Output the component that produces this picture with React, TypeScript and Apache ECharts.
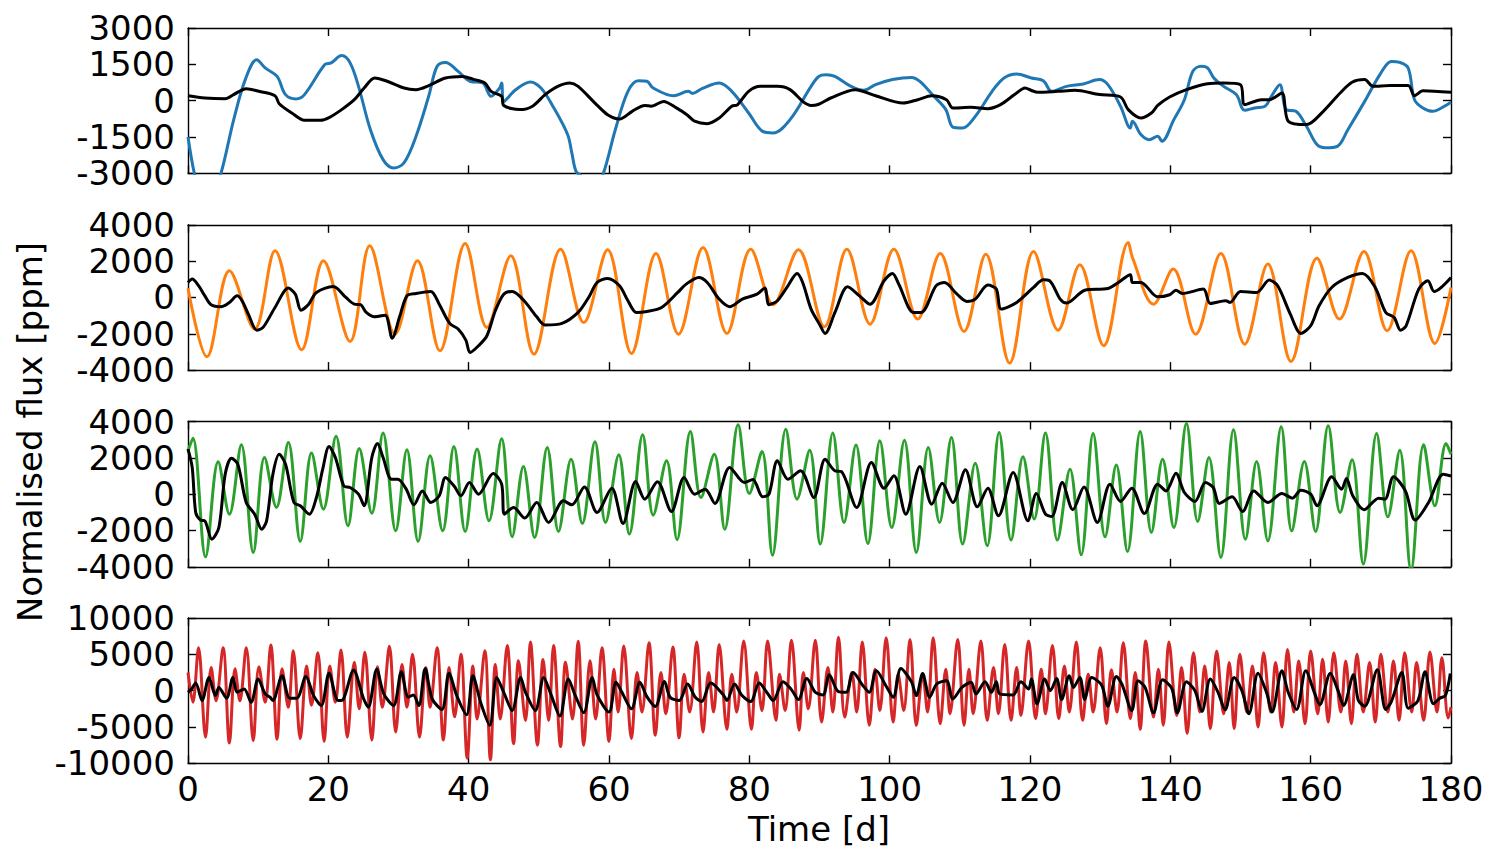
import React, { useEffect, useRef } from "react";
import * as echarts from "echarts";

type P = [number, number];

const DAYS_MIN = 0;
const DAYS_MAX = 180;
const DAYS_STEP = 20;
const Y_MIN = [-3000, -4000, -4000, -10000];
const Y_MAX = [3000, 4000, 4000, 10000];
const Y_STEP = [1500, 2000, 2000, 5000];
const COLOURS = ["#1f77b4", "#ff7f0e", "#2ca02c", "#d62728"];
const X_TITLE = "Time [d]";
const Y_TITLE = "Normalised flux [ppm]";

const blueFlux: P[] = [
  [0, -1500], [0.9, -3000], [2.5, -4800], [4.7, -3000], [6.5, -800], [8.2, 900], [9.8, 1690], [11, 1350], [12.7, 1000], [13.9, 250], [15.4, 70], [16.6, 250], [19.5, 1490], [20.4, 1560], [21.9, 1860], [23.1, 1560], [24.3, 590], [26, -1200], [27.8, -2435], [29.3, -2780], [30.8, -2560], [32.5, -1470], [34.3, 180], [35.5, 1420], [36.7, 1580], [38.5, 1210], [40.2, 800], [42, 730], [43.2, 180], [44.4, 520], [44.7, 730], [45, -30], [46.7, 450], [48.8, 770], [50.3, 520], [52, -230], [54.1, -1400], [54.7, -2160], [55.3, -2920], [56, -3100], [57.5, -4000], [59.2, -3000], [60.9, -1200], [62.7, 385], [64.2, 825], [65.4, 800], [66.3, 520], [69.2, 200], [71.3, 385], [71.9, 300], [73.4, 520], [75.7, 730], [77.5, 385], [79.9, -510], [81.9, -1270], [83.4, -1335], [85.8, -785], [88.8, 590], [89.9, 1000], [91, 1070], [92.2, 1000], [94.5, 590], [96.3, 425], [98, 660], [100.4, 870], [103.1, 960], [104.3, 800], [106.3, 180], [108, -370], [109, -1090], [110.4, -1130], [112.2, -650], [114.6, 385], [116.3, 935], [118.1, 1100], [120.2, 935], [121.9, 825], [123.1, 385], [125.2, 590], [127.6, 690], [129.9, 870], [131.1, 660], [132.9, -230], [134.3, -1130], [134.6, -850], [135.8, -1400], [137, -1610], [138.2, -1470], [138.8, -1680], [140.5, -785], [142, 40], [143.2, 1210], [144.4, 1420], [145.3, 1350], [146.2, 935], [147.6, 590], [149.4, 250], [150.6, -400], [152, -300], [153.5, -230], [154.4, 180], [155.6, 660], [156.5, -370], [157.9, -440], [159.4, -1060], [160.9, -1815], [162.1, -1950], [163.8, -1885], [165.3, -1200], [167.7, -30], [170, 1140], [171.5, 1620], [172.7, 1580], [173.9, 1350], [174.8, 40], [176, -300], [177.4, -440], [178.9, -260], [180, -70],
];

const blueModel: P[] = [
  [0, 205], [2.4, 110], [5.3, 80], [6.5, 250], [8.3, 495], [10.1, 385], [12.4, 205], [13, -125], [14.8, -510], [16.6, -810], [18.9, -810], [20.1, -700], [21.9, -370], [23.7, 40], [25.1, 520], [26.6, 935], [28.4, 800], [30.8, 520], [32.5, 455], [34.3, 620], [36.7, 935], [39.1, 1000], [40.8, 870], [42.3, 730], [43.2, 385], [44.7, 180], [45, -200], [47.3, -370], [49.1, -230], [50.9, 250], [52.7, 590], [54.4, 730], [55.6, 590], [58, -100], [59.8, -580], [61.5, -760], [63.3, -440], [65.1, -200], [66, -230], [67.8, -30], [69.6, -300], [71.1, -580], [72.2, -850], [74, -950], [75.7, -715], [77.5, -230], [78.3, -170], [79.9, 385], [81.6, 590], [84, 590], [85.8, 455], [87.6, -30], [88.8, -200], [89.8, -160], [91.6, 110], [95.1, 455], [98, 205], [101.9, -100], [104, 40], [106, 205], [108.1, 40], [109, -300], [111.6, -275], [114, -330], [115.8, -165], [117.8, 250], [119.3, 520], [120.2, 420], [121.1, 345], [124, 385], [126.4, 425], [129.9, 250], [132.9, 150], [134, -370], [135.8, -715], [137.3, -510], [138.2, -200], [139.9, 150], [142.3, 455], [145.3, 700], [147.6, 730], [150, 660], [150.6, -165], [153, 40], [154.1, 40], [155.9, 315], [156.8, -850], [159.4, -990], [161.8, -440], [164.2, 315], [165.9, 760], [167.7, 870], [168.9, 590], [171.3, 630], [173.9, 630], [174.8, 205], [176, 410], [180, 345],
];

const orangeFlux: P[] = [
  [0, 500], [2.7, -3270], [5.9, 1470], [9.5, -1740], [12.4, 2570], [16.2, -2880], [19.3, 2020], [23.1, -2420], [25.9, 2840], [29.5, -2020], [32.7, 2020], [35.9, -2940], [39.5, 2970], [42.6, -1650], [46, 2290], [49.3, -3120], [53.1, 2660], [56.4, -1380], [59.8, 2620], [63.2, -3080], [66.7, 2420], [69.9, -2020], [73.4, 2750], [76.8, -1980], [80.2, 2660], [83.4, -400], [87, 2620], [90.7, -1615], [93.9, 2660], [97.2, -1470], [100.6, 2660], [104, -1190], [107.2, 2420], [110.6, -1870], [113.7, 2385], [117.1, -3615], [120.5, 2530], [124, -1800], [127.1, 1800], [130.5, -2660], [134, 3030], [134.6, 2200], [137.6, -370], [140.4, 1560], [143.6, -2020], [147.2, 2420], [150.6, -2570], [153.9, 1835], [157.2, -3520], [160.9, 2165], [164.1, -1190], [167.6, 2530], [170.9, -1835], [174.3, 2570], [177.7, -2530], [180, 550],
];

const orangeModel: P[] = [
  [0, 825], [0.6, 1010], [1.5, 650], [2.4, 90], [3.3, -400], [4.7, -510], [5.9, -275], [7, 90], [7.7, -180], [8.6, -920], [9.8, -1800], [10.7, -1650], [12.4, -550], [14.3, 515], [15.3, 180], [16.1, -700], [17.2, -370], [18.3, 275], [20.7, 605], [22.5, 0], [23.7, -370], [24.6, -400], [25.4, -825], [26.6, -1065], [28.1, -975], [29.1, -2240], [30.2, -1010], [31.2, 90], [32.5, 220], [34.6, 330], [35.8, -370], [37.3, -1430], [38.5, -1740], [39.6, -2350], [40.2, -3030], [41.4, -2660], [42.6, -2110], [43.8, -730], [45, 180], [46.2, 330], [47.9, -180], [49.7, -1065], [50.9, -1520], [53.3, -1430], [55.6, -825], [57.1, 0], [58.3, 825], [59.8, 1045], [61.5, 640], [62.7, -180], [63.9, -825], [65.4, -770], [67.5, -550], [69.8, 275], [71, 735], [72.8, 1100], [74, 825], [75.7, -90], [77.2, -510], [79, -90], [81.1, 180], [82.2, 515], [82.8, -400], [84, -180], [85.5, 640], [86.8, 1320], [87.6, 825], [88.8, -640], [90, -1470], [90.8, -1980], [92.2, -825], [94, 590], [95.7, 90], [97.2, -370], [99.2, 920], [100.4, 1320], [101.3, 730], [103.4, -825], [104.5, -825], [106.6, 640], [107.8, 825], [109.6, 180], [111, -220], [112.2, -90], [114, 680], [115.2, 460], [115.9, -640], [118.1, -275], [120.5, 550], [121.9, 970], [122.8, 920], [124.3, -90], [125.2, -310], [127.8, 400], [131.1, 495], [132.6, 825], [134.3, 1250], [134.6, 825], [135.8, 825], [138.2, 35], [139.9, 150], [140.8, 400], [141.7, 220], [144.7, 460], [145.7, -330], [147.9, -180], [148.5, -275], [150, 330], [152.3, 275], [154.1, 955], [155.3, 640], [157.1, -920], [158.6, -1980], [160, -1560], [161.2, -460], [163, 550], [165.3, 1100], [167.4, 1320], [169.2, 550], [170.7, -825], [171.9, -1100], [172.8, -1800], [173.6, -1560], [175.4, 460], [176.7, 920], [177.6, 330], [180, 1100],
];

const greenFlux: P[] = [
  [0, 2390], [0.7, 3080], [2.5, -3450], [4.3, 1780], [5.9, -1100], [7.6, 2715], [9.3, -3210], [10.9, 2020], [12.6, -730], [14.3, 2840], [16, -2600], [17.6, 2260], [19.3, -825], [21.1, 3190], [22.8, -1740], [24.4, 2510], [26.2, -1045], [27.8, 3360], [29.6, -2020], [31.2, 2440], [32.8, -2600], [34.5, 2110], [36.3, -2020], [37.9, 2620], [39.5, -2055], [41.2, 2480], [42.9, -1470], [44.7, 3050], [46.2, -2350], [47.8, 1520], [49.4, -2385], [51.2, 2570], [52.8, -2055], [54.6, 1925], [56.2, -1615], [58, 2880], [59.5, -1560], [61.4, 2165], [62.9, -2200], [64.8, 3270], [66.3, -1155], [68.2, 1835], [69.7, -2510], [71.6, 3450], [73.1, -185], [75, 2200], [76.5, -1930], [78.4, 3815], [80, 35], [81.8, 2350], [83.3, -3360], [85.2, 3580], [86.8, -275], [88.6, 2420], [90.1, -2750], [91.9, 3360], [93.5, -1560], [95.2, 2700], [96.9, -2715], [98.6, 2935], [100.3, -1835], [102.1, 2970], [103.8, -3210], [105.5, 2570], [107.1, -1560], [108.8, 3120], [110.4, -2750], [112.2, 1700], [113.9, -2840], [115.6, 3395], [117.3, -2530], [119, 2055], [120.6, -1375], [122.2, 3360], [123.9, -2530], [125.7, 1375], [127.3, -3340], [129, 3340], [130.7, -2350], [132.3, 1600], [133.9, -3160], [135.7, 3450], [137.3, -2110], [138.9, 1925], [140.5, -1835], [142.3, 3890], [143.9, -1505], [145.5, 2020], [147.2, -3490], [149, 3540], [150.7, -2480], [152.3, 1800], [153.9, -2570], [155.8, 3710], [157.3, -2020], [159.1, 1800], [160.7, -2055], [162.5, 3760], [164.2, -1010], [165.9, 1890], [167.5, -3850], [169.4, 3340], [171, -1250], [172.7, 2420], [174.3, -4200], [176.1, 2715], [177.7, -640], [179.3, 2790], [180, 2200],
];

const greenModel: P[] = [
  [0, 2480], [0.6, 1470], [1.1, -1010], [1.8, -1430], [2.4, -1470], [3.4, -2480], [4.4, -1840], [5.3, 1100], [6.2, 1980], [7.1, 1650], [8.3, -460], [9.5, -1100], [10.5, -1930], [11.2, -1470], [12.1, 1100], [13, 2200], [13.9, 1650], [15.1, -460], [16, -640], [17.3, -1100], [18.3, -185], [19.2, 1375], [20.1, 2620], [21, 2020], [22.2, 460], [23.1, 370], [24.3, 0], [25.1, -640], [26.2, 2020], [27, 2790], [27.8, 2020], [29, 825], [29.9, 825], [31.1, 275], [32.2, -590], [33.4, 180], [34.6, -460], [35.8, -90], [36.7, 920], [37.9, 460], [38.9, -90], [40.1, 640], [41.4, 0], [43.5, 1140], [44.7, 550], [45.1, -1100], [46.4, -730], [48, -1320], [49.7, -460], [51.4, -1560], [53.5, -370], [54.7, -590], [56.5, 400], [58.3, -1010], [60.4, 330], [62, -1615], [63.8, 700], [65.1, -275], [66.9, 680], [68.9, -955], [70.7, 920], [72.2, 0], [73.7, 275], [75.1, -510], [77.2, 1470], [79.3, 640], [80.5, 810], [81.9, -150], [82.8, 0], [84, 1835], [85.5, 825], [87.3, 1285], [89.2, -185], [90.8, 1925], [92.2, 1285], [93.1, 1250], [95.3, -730], [97.4, 1745], [99.2, 330], [100.6, 1010], [102.3, -1100], [104.3, 1520], [106, -550], [107.5, 605], [109, -460], [110.8, 1340], [112.5, -700], [114, 330], [115.5, -1190], [117.6, 1190], [119.7, -1470], [120.9, 35], [122.2, -1100], [123.1, -1230], [124.6, 640], [126.1, -860], [127.7, 400], [129.6, -1560], [131.4, 550], [132.9, -400], [134.5, 330], [136.3, -1065], [138.2, 550], [139.4, 180], [140.8, 1155], [142, 90], [143.5, -400], [145, 640], [146.1, 370], [147, -510], [148.8, -150], [150.3, -955], [151.9, 180], [153.9, -460], [155.9, 35], [157.4, -220], [158.6, 220], [160, 0], [160.9, -640], [163, 955], [164.4, 275], [165.1, 860], [166, -90], [167.6, -860], [169.7, -220], [170.6, -275], [171.8, 955], [173.5, 180], [174.9, -1430], [176.8, -460], [178.9, 1100], [180, 1000],
];

const redFlux: P[] = [
  [0, 2500], [0.7, -1600], [1.5, 5900], [2.5, -6400], [3.3, 3200], [4, -1400], [5, 5900], [5.9, -7200], [6.7, 3000], [7.4, -1400], [8.3, 5900], [9.3, -6900], [10.1, 3300], [11, -1600], [11.8, 6300], [12.7, -6700], [13.4, 3000], [14.3, -2300], [15, 5500], [16, -6600], [16.9, 3400], [17.6, -2000], [18.5, 5200], [19.4, -7000], [20.2, 3400], [21, -1600], [21.8, 5600], [22.7, -6400], [23.7, 3900], [24.4, -2500], [25.2, 5300], [26.2, -6800], [27, 3300], [27.7, -2300], [28.7, 6100], [29.6, -5700], [30.5, 3600], [31.2, -2300], [32, 5000], [33, -6400], [33.9, 3200], [34.5, -2300], [35.5, 5900], [36.4, -6800], [37.2, 3200], [38, -3600], [38.9, 5000], [39.8, -9300], [40.6, 3400], [41.2, -3900], [42.3, 5500], [43.1, -9500], [43.8, 3600], [44.5, -3900], [45.5, 6200], [46.4, -7300], [47.1, 4100], [48.1, -4100], [48.8, 6700], [49.8, -7500], [50.6, 4300], [51.4, -4100], [52.1, 6200], [53.1, -7700], [53.8, 3900], [54.8, -3900], [55.6, 6800], [56.4, -7500], [57.3, 4100], [58.1, -3900], [59, 5900], [60, -7000],
  [60.7, 2950], [61.3, -2950], [62.1, 6140], [63.2, -6590], [64, 2500], [64.7, -2950], [65.7, 6590], [66.6, -6140], [67.4, 2500], [68.1, -3180], [69.1, 6000], [70, -6500], [70.7, 2270], [71.5, -2950], [72.5, 6680], [73.4, -5680], [74.2, 2500], [74.9, -2950], [75.7, 6360], [76.8, -5320], [77.5, 2270], [78.2, -2950], [79.2, 6820], [80.3, -5320], [81, 2500], [81.8, -2730], [82.6, 6820], [83.8, -4090], [84.3, 2270], [85.1, -2730], [86, 6950], [87.1, -5450], [87.7, 2500], [88.4, -2500], [89.4, 6950], [90.3, -4320], [91.2, 3180], [91.9, -2950], [92.7, 7360], [93.6, -3640], [94.6, 2500], [95.3, -2950], [96.1, 6680], [97.1, -4770], [97.9, 2950], [98.6, -2730], [99.5, 7270], [100.5, -4320], [101.2, 2270], [102, -2730], [102.9, 7045], [103.8, -4770], [104.7, 2270], [105.4, -2950], [106.2, 7270], [107.2, -4545], [108, 2950], [108.6, -3180], [109.7, 7045], [110.6, -4770], [111.3, 2950], [111.9, -3180], [113, 6820], [113.9, -4090], [114.8, 3180], [115.5, -3180], [116.4, 6360], [117.3, -4090], [118.1, 3180], [118.7, -3410], [119.8, 6820],
  [120.8, -3860], [121.6, 2950], [122.2, -3180], [123.2, 6230], [124.1, -3860], [124.9, 3410], [125.6, -2950], [126.6, 6680], [127.5, -4090], [128.3, 2270], [129, -2950], [130, 5900], [130.9, -4545], [131.6, 2860], [132.4, -2950], [133.3, 6590], [134.3, -3860], [135, 2500], [135.7, -5320], [136.5, 6820], [137.6, -3640], [138.3, 2950], [139, -4770], [139.8, 6680], [140.9, -3410], [141.6, 3180], [142.4, -5900], [143.3, 5230], [144.2, -2950], [144.9, 3410], [145.7, -5230], [146.6, 5450], [147.6, -3180], [148.4, 3860], [149.1, -5230], [149.9, 5000], [150.9, -2950], [151.7, 3410], [152.5, -5000], [153.3, 5230], [154.3, -2950], [155, 3860], [155.9, -5000], [156.7, 5680], [157.6, -2950], [158.3, 4090], [159.2, -4545], [160, 5450], [161, -3180], [161.7, 4320], [162.5, -4320], [163.3, 5230], [164.3, -2950], [165, 4090], [165.8, -4545], [166.6, 5000], [167.5, -2950], [168.4, 3860], [169.2, -4320], [170, 5000], [171, -2950], [171.8, 4090], [172.6, -4090], [173.4, 5230], [174.4, -2950], [175.1, 3860], [176.1, -4090], [177, 5320], [178, -2950], [178.7, 4545], [179.6, -3770], [180, -2270],
];

const redModel: P[] = [
  [0, -230], [0.5, 230], [1.1, 1045], [2, -1360], [3, 1820], [3.9, -680], [4.4, 450], [5.5, -1045], [6.4, 1820], [7, -230], [8, 230], [9, -1590], [10, 1590], [11, -450], [11.7, -910], [12.1, -1360], [13.4, 2045], [14.5, -1045], [15.5, -1045], [16.8, 1950], [17.9, -680], [19, -2045], [20.1, 2410], [21.4, -1360], [22.1, -1230], [23.6, 2820], [25, -1045], [25.7, -2270], [26.9, 2950], [27.9, -450], [29.3, -2045], [30.4, 2590], [31.4, -910], [32.1, -590], [32.9, -2045], [33.8, 3045], [34.8, -1140], [36.2, -2590], [37.2, 2410], [38.3, -680], [39.7, -3320], [40.6, 2045], [41.7, -1590], [43, -4770], [44, 1820], [45, -230], [46.2, -2730], [47.4, 1820], [48.1, -230], [49.5, -2730], [50.7, 1820], [51.7, -450], [53, -3500], [54.2, 1590], [55.2, -680], [56.4, -3045], [57.6, 1820], [58.3, -590], [60, -2950],
  [61, 1140], [61.8, -140], [63.2, -2500], [64.4, 1140], [65.4, -820], [66.6, -2180], [67.9, 1270], [68.7, -910], [70, -1360], [71.2, 910], [72.3, -910], [73.2, -1500], [74.5, 1045], [76.3, -590], [76.8, -1360], [77.9, 910], [78.9, -590], [80.2, -1500], [81.4, 1045], [82.5, -230], [83.4, -1360], [84.8, 1230], [86, 140], [87, -1230], [88.2, 1680], [89.4, -230], [90.5, -590], [91.4, 2180], [92.7, -140], [93.8, -230], [94.8, 2500], [96.2, 680], [97.1, -230], [98.1, 2730], [99.6, 450], [100.5, -910], [101.6, 3045], [103.1, 1230], [103.8, -680], [104.7, 2360], [105.7, -910], [106.7, 910], [108.1, 1360], [109, -1140], [110.3, 450], [111.6, 1140], [112.3, -450], [113.6, 1230], [114.5, -230], [115.2, 1230], [115.7, -450], [117.6, -590], [118.7, 1230], [119.8, 230],
  [120.2, 1590], [121, -1820], [122.1, 1590], [122.9, 0], [123.8, 1680], [124.5, -1230], [125.6, 2045], [126.2, 450], [127.1, 1820], [127.8, -1230], [128.8, 1820], [130.2, 770], [131.1, -2140], [132.3, 1950], [133.1, 910], [134.5, -2730], [135.4, 1360], [136.4, 450], [137.6, -3045], [138.9, 1500], [140.2, 320], [141, -3045], [142.3, 1230], [143.5, 0], [144.5, -2860], [145.7, 1590], [146.8, -230], [147.8, -2640], [149.1, 1820], [150.2, 0], [151.2, -3180], [152.5, 2410], [153.7, -230], [154.5, -2950], [155.9, 2730], [156.8, -230], [158, -2590], [159.3, 2730], [160.6, -450], [161.3, -1950], [162.8, 2410], [163.9, 0], [164.7, -2045], [166.1, 2180], [166.8, -1360], [167.7, -2140], [169.5, 2860], [170.7, -2590], [171.5, -1500], [173, 2500], [173.9, -2410], [175.3, -1360], [176.3, 2590], [177.5, -1820], [178.4, -1045], [179.2, -680], [179.9, 2360],
];

const FLUX = [blueFlux, orangeFlux, greenFlux, redFlux];
const MODEL = [blueModel, orangeModel, greenModel, redModel];

const FONT = '"DejaVu Sans", "Liberation Sans", sans-serif';
const FS = 34;

export default function App() {
  const ref = useRef<HTMLDivElement>(null);
  useEffect(() => {
    if (!ref.current) return;
    const chart = echarts.init(ref.current, null, { renderer: "svg" });
    const tops = [28, 224.8, 421.5, 618];
    const H = 145.3;
    const frame = { show: true, onZero: false, lineStyle: { color: "#000", width: 1.4 } };
    const tick = { show: true, inside: true, length: 8, lineStyle: { color: "#000", width: 1.4 } };
    const plain = (v: number) => String(v);
    const grid: any[] = [];
    const xAxis: any[] = [];
    const yAxis: any[] = [];
    const series: any[] = [];
    tops.forEach((top, i) => {
      grid.push({ left: 188, right: 49, top, height: H, containLabel: false });
      const xc = {
        type: "value", gridIndex: i, min: DAYS_MIN, max: DAYS_MAX, interval: DAYS_STEP,
        splitLine: { show: false }, axisLine: frame, axisTick: tick,
      };
      xAxis.push({
        ...xc, position: "bottom",
        axisLabel: { show: i === 3, color: "#000", fontFamily: FONT, fontSize: FS, margin: 9, formatter: plain },
      });
      xAxis.push({ ...xc, position: "top", axisLabel: { show: false } });
      const yc = {
        type: "value", gridIndex: i, min: Y_MIN[i], max: Y_MAX[i], interval: Y_STEP[i],
        splitLine: { show: false }, axisLine: frame, axisTick: tick,
      };
      yAxis.push({
        ...yc, position: "left",
        axisLabel: { color: "#000", fontFamily: FONT, fontSize: FS, margin: 13, formatter: plain },
      });
      yAxis.push({ ...yc, position: "right", axisLabel: { show: false } });
      series.push({
        type: "line", xAxisIndex: 2 * i, yAxisIndex: 2 * i, data: FLUX[i],
        showSymbol: false, symbol: "none", smooth: 0.35, clip: true, silent: true,
        lineStyle: { color: COLOURS[i], width: 3 }, z: 2,
      });
      series.push({
        type: "line", xAxisIndex: 2 * i, yAxisIndex: 2 * i, data: MODEL[i],
        showSymbol: false, symbol: "none", smooth: 0.3, clip: true, silent: true,
        lineStyle: { color: "#000", width: 3 }, z: 3,
      });
    });
    chart.setOption({
      animation: false,
      backgroundColor: "#fff",
      grid, xAxis, yAxis, series,
      graphic: [
        {
          type: "text", x: 819, y: 829,
          style: { text: X_TITLE, fill: "#000", font: `${FS}px ${FONT}`, textAlign: "center", textVerticalAlign: "middle" },
        },
        {
          type: "text", x: 30, y: 432, rotation: Math.PI / 2,
          style: { text: Y_TITLE, fill: "#000", font: `${FS}px ${FONT}`, textAlign: "center", textVerticalAlign: "middle" },
        },
      ],
    });
    return () => chart.dispose();
  }, []);
  return (
    <div
      ref={ref}
      style={{ position: "fixed", left: 0, top: 0, width: 1500, height: 863, background: "#fff" }}
    />
  );
}
